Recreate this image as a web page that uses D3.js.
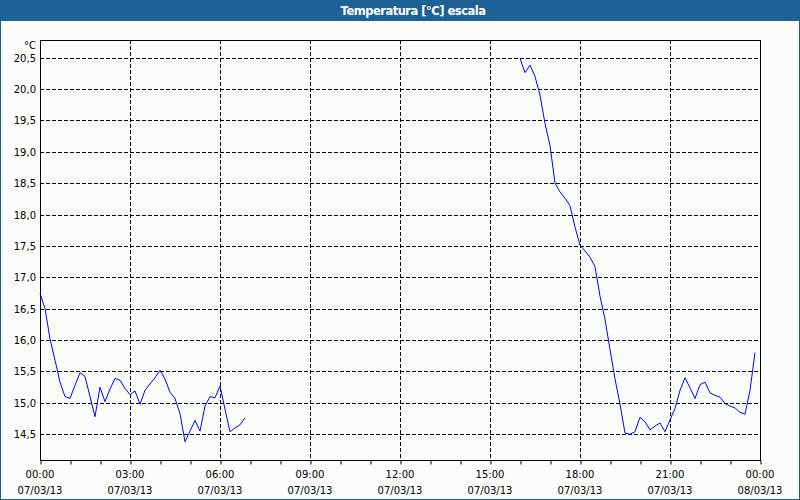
<!DOCTYPE html>
<html><head><meta charset="utf-8">
<script src="https://cdn.jsdelivr.net/npm/d3@7"></script>
<style>
html,body{margin:0;padding:0;background:#fbfdfb;}
svg{display:block;}
text{font-family:"DejaVu Sans",Verdana,sans-serif;}
</style></head>
<body>
<script>
const titleText = "Temperatura [°C] escala";
const unitLabel = "°C";
const yTicks = [14.5,15.0,15.5,16.0,16.5,17.0,17.5,18.0,18.5,19.0,19.5,20.0,20.5];
const xTickHours = [0,3,6,9,12,15,18,21,24];
const intervalMinutes = 10;
const seg1Start = new Date(2013,2,7,0,0);
const seg1Values = [16.75,16.5,16.02,15.68,15.33,15.1,15.07,15.28,15.48,15.42,15.1,14.78,15.25,15.02,15.22,15.39,15.36,15.23,15.13,15.19,14.98,15.2,15.3,15.4,15.52,15.38,15.17,15.07,14.83,14.38,14.55,14.72,14.55,14.95,15.1,15.08,15.27,14.9,14.54,14.6,14.65,14.76];
const seg2Start = new Date(2013,2,7,16,0);
const seg2Values = [20.49,20.26,20.38,20.2,19.9,19.45,19.1,18.5,18.36,18.26,18.14,17.8,17.51,17.42,17.32,17.17,16.7,16.33,15.85,15.38,14.98,14.52,14.5,14.54,14.77,14.7,14.57,14.63,14.68,14.54,14.73,14.91,15.2,15.4,15.24,15.07,15.29,15.33,15.16,15.12,15.09,14.99,14.95,14.92,14.85,14.82,15.2,15.8];

const W=800,H=500;
const m={left:40,right:760,top:40,bottom:460};
const t0=new Date(2013,2,7,0,0), t1=new Date(2013,2,8,0,0);
const x=d3.scaleTime().domain([t0,t1]).range([m.left,m.right]);
const y=d3.scaleLinear().domain([14.09,20.78]).range([m.bottom,m.top]);

const svg=d3.select("body").append("svg").attr("width",W).attr("height",H);
svg.append("rect").attr("x",0.5).attr("y",0.5).attr("width",W-1).attr("height",H-1).attr("fill","#fbfdfb").attr("stroke","#1e6196");
svg.append("rect").attr("x",0).attr("y",0).attr("width",W).attr("height",21).attr("fill","#1e6196");
svg.append("text").attr("x",W/2+13).attr("y",15).attr("text-anchor","middle").attr("fill","#fff")
  .attr("font-weight","bold").attr("font-size","11.5px").attr("letter-spacing","-0.5px").text(titleText);

// grid
const g=svg.append("g");
yTicks.forEach(v=>{
  g.append("line").attr("x1",m.left).attr("x2",m.right).attr("y1",Math.round(y(v))+0.5).attr("y2",Math.round(y(v))+0.5)
   .attr("stroke","#000").attr("stroke-dasharray","4,2");
});
xTickHours.slice(1,-1).forEach(h=>{
  const xx=Math.round(x(d3.timeHour.offset(t0,h)))+0.5;
  g.append("line").attr("x1",xx).attr("x2",xx).attr("y1",m.top).attr("y2",m.bottom)
   .attr("stroke","#000").attr("stroke-dasharray","4,2");
});

// frame
svg.append("rect").attr("x",m.left+0.5).attr("y",m.top+0.5).attr("width",m.right-m.left).attr("height",m.bottom-m.top)
  .attr("fill","none").attr("stroke","#000");

// x axis
const xAxis=d3.axisBottom(x).ticks(d3.timeHour.every(1)).tickSize(4).tickFormat("");
const xa=svg.append("g").attr("transform",`translate(0.5,${m.bottom+0.5})`).call(xAxis);
xa.select(".domain").remove();
xa.selectAll("line").attr("stroke","#000");
xTickHours.forEach(h=>{
  const d=d3.timeHour.offset(t0,h);
  const xx=x(d);
  svg.append("text").attr("x",xx).attr("y",478).attr("text-anchor","middle").attr("font-size","10px").attr("fill","#000")
    .text(d3.timeFormat("%H:%M")(d));
  svg.append("text").attr("x",xx).attr("y",494).attr("text-anchor","middle").attr("font-size","10px").attr("fill","#000")
    .text(d3.timeFormat("%d/%m/%y")(d));
});

// y labels
yTicks.forEach(v=>{
  svg.append("text").attr("x",36).attr("y",y(v)+4).attr("text-anchor","end").attr("font-size","10px").attr("fill","#000")
    .text(d3.format(".1f")(v).replace(".",","));
});
svg.append("text").attr("x",36).attr("y",49).attr("text-anchor","end").attr("font-size","10px").attr("fill","#000").text(unitLabel);

// lines
const line=d3.line().x(d=>x(d.t)).y(d=>y(d.v));
[[seg1Start,seg1Values],[seg2Start,seg2Values]].forEach(([s,vals])=>{
  const pts=vals.map((v,i)=>({t:d3.timeMinute.offset(s,i*intervalMinutes),v}));
  svg.append("path").datum(pts).attr("d",line).attr("fill","none").attr("stroke","#0000ff").attr("stroke-width",1);
});
</script>
</body></html>
